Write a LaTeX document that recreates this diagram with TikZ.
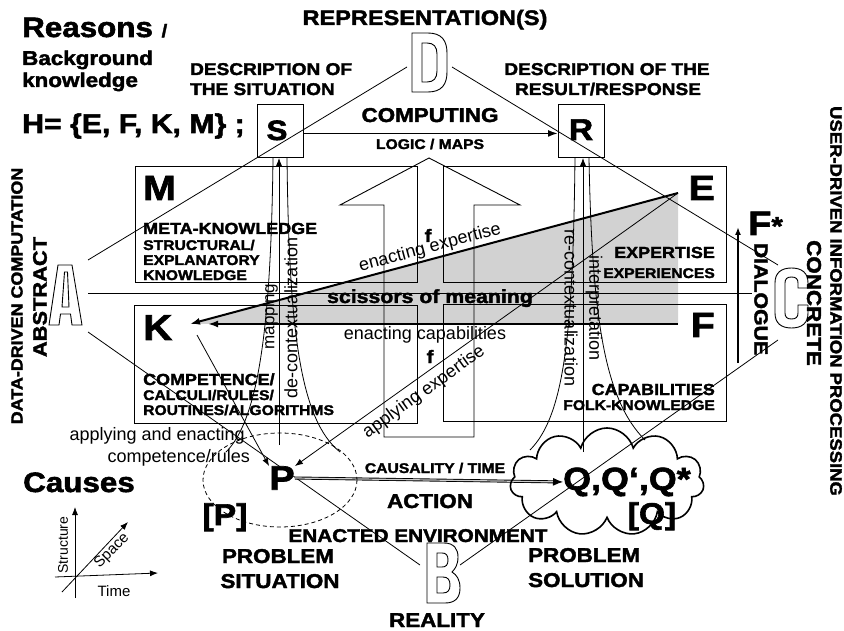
\documentclass[tikz,border=0pt]{standalone}
\usepackage{fontspec}
\setmainfont{Liberation Sans}
\newfontfamily\hv{Liberation Sans Bold}[FakeStretch=1.12,FakeBold=2]
\usetikzlibrary{arrows.meta,shapes.symbols}
\newcommand\fsz[1]{\fontsize{#1}{#1}\selectfont}
\begin{document}
\begin{tikzpicture}[x=1pt,y=-1pt,
  ln/.style={line width=0.8pt},
  boxst/.style={draw,line width=0.9pt,inner sep=0pt,anchor=north west},
  hb/.style={inner sep=0pt},
  tipA/.style={-{Latex[length=8pt,width=6pt]}},
  tipB/.style={-{Latex[length=10pt,width=7pt]}},
  hollow/.style={draw,line width=0.9pt,fill=white,even odd rule},
]
\useasboundingbox[fill=white] (0,0) rectangle (844,631);

% shaded wedge
\coordinate (Etip) at (678,193);
\coordinate (Ktip) at (190,324);
\coordinate (Kcap) at (208,324);
\coordinate (Ecap) at (678,324);
\fill[gray!35] (Ktip) -- (Etip) -- (Ecap) -- cycle;

% boxes
\node[boxst,minimum width=282pt,minimum height=116pt] (Mbox) at (135,166) {};
\node[boxst,minimum width=283pt,minimum height=116pt] (Ebox) at (443,166) {};
\node[boxst,minimum width=283pt,minimum height=118pt] (Kbox) at (134,305) {};
\node[boxst,minimum width=283pt,minimum height=117pt] (Fbox) at (443,304) {};
\node[boxst,minimum width=46pt,minimum height=53pt] (Sbox) at (257,104) {};
\node[boxst,minimum width=46pt,minimum height=53pt] (Rbox) at (558,104) {};

% big hollow up arrow
\draw[line width=0.9pt] (384,437) -- (384,205) -- (340,205) -- (429,158) -- (520,205) -- (474,205) -- (474,437) -- cycle;

% triangle lines A B C D
\coordinate (Dl) at (407,67); \coordinate (Dr) at (452,67);
\coordinate (Aup) at (88,260); \coordinate (Amid) at (88,293); \coordinate (Adn) at (88,332);
\coordinate (Cup) at (778,265); \coordinate (Cmid) at (752,293); \coordinate (Cdn) at (778,340);
\coordinate (Bl) at (420,565); \coordinate (Br) at (460,565);
\draw[ln] (Dl) -- (Aup);
\draw[ln] (Dr) -- (Cup);
\draw[ln] (Amid) -- (Cmid);
\draw[ln] (Adn) -- (Bl);
\draw[ln] (Br) -- (Cdn);

% thick arrows to K
\draw[line width=2pt,tipB] (Etip) -- (Ktip);
\draw[line width=2pt,tipB] (Ecap) -- (Kcap);

% S -> R
\draw[line width=1.8pt,tipB] ([yshift=-2.5pt]Sbox.east) -- ([yshift=-2.5pt]Rbox.west);

% P, Q
\node[hb,font=\hv\fsz{34}] (P) at (282,478) {P};
\node[hb,anchor=base west,font=\hv\fsz{32}] (Qtxt) at (563,490) {Q,Q‘,Q*};
\draw[line width=0.9pt,double=gray!40,double distance=1.2pt,-{Latex[length=10pt,width=8pt]}] (P.east) -- (Qtxt.west);

\coordinate (Kp) at (197,335);
\draw[ln,tipA] (Kp) -- (P.north west);
\draw[ln,tipA] (Etip) -- (P.north east);

% vertical arrows into S and R
\coordinate (Sv) at (279,445);
\draw[ln,tipA] (Sv) -- (Sv |- Sbox.south);
\coordinate (Rv) at (583,452);
\draw[ln,tipA] (Rv) -- (Rv |- Rbox.south);

% funnel curves
\coordinate (s1) at (273,158); \coordinate (s1e) at (226,452);
\coordinate (s2) at (287,158); \coordinate (s2e) at (340,452);
\coordinate (r1) at (575,158); \coordinate (r1e) at (530,450);
\coordinate (r2) at (589,158); \coordinate (r2e) at (645,440);
\draw[ln] (s1) .. controls (271,330) and (258,420) .. (s1e);
\draw[ln] (s2) .. controls (289,330) and (300,420) .. (s2e);
\draw[ln] (r1) .. controls (573,330) and (565,415) .. (r1e);
\draw[ln] (r2) .. controls (592,320) and (605,400) .. (r2e);

% dashed ellipse and cloud
\draw[ln,dash pattern=on 4pt off 3pt] (280,480) ellipse [x radius=77, y radius=47];
\node[cloud,draw,line width=1.6pt,cloud puffs=11,aspect=1.8,minimum width=194pt,minimum height=108pt,inner sep=0pt] (Qcloud) at (607,482) {};

% hollow letters
\draw[hollow] (412,33) -- (428,33) .. controls (442,33) and (447,41) .. (447,53) -- (447,72) .. controls (447,84) and (442,92) .. (428,92) -- (412,92) -- cycle
  (422,43) -- (427,43) .. controls (434,43) and (437,47) .. (437,54) -- (437,71) .. controls (437,78) and (434,82) .. (427,82) -- (422,82) -- cycle;
\draw[hollow] (427,543) -- (444,543) .. controls (454,543) and (458,549) .. (458,557) .. controls (458,565) and (455,569) .. (452,572) .. controls (457,575) and (460,580) .. (460,588) .. controls (460,598) and (455,603) .. (445,603) -- (427,603) -- cycle
  (437,553) -- (442,553) .. controls (446,553) and (448,555) .. (448,560) .. controls (448,565) and (446,567) .. (442,567) -- (437,567) -- cycle
  (437,577) -- (443,577) .. controls (448,577) and (450,580) .. (450,585) .. controls (450,590) and (448,593) .. (443,593) -- (437,593) -- cycle;
\draw[hollow] (49,325) -- (58,265) -- (72,265) -- (82,325) -- (72,325) -- (70.5,314) -- (60.5,314) -- (59,325) -- cycle
  (62,307) -- (64.5,272) -- (67.5,272) -- (69,307) -- cycle;
\draw[hollow] (798,288) -- (808,288) -- (808,283) .. controls (808,273) and (802,268) .. (791.5,268) .. controls (781,268) and (775,273) .. (775,283) -- (775,313) .. controls (775,323) and (781,328) .. (791.5,328) .. controls (802,328) and (808,323) .. (808,313) -- (808,305) -- (798,305) -- (798,313) .. controls (798,317) and (796,319) .. (791.5,319) .. controls (787,319) and (785,317) .. (785,313) -- (785,283) .. controls (785,279) and (787,277) .. (791.5,277) .. controls (796,277) and (798,279) .. (798,283) -- cycle;

% top texts
\node[hb,anchor=base west,font=\hv\fsz{28}] (reasons) at (22,37) {Reasons {\fsz{18}/}};
\node[hb,anchor=base west,font=\hv\fsz{20}] (bg1) at (22,65) {Background};
\node[hb,anchor=base west,font=\hv\fsz{20}] (bg2) at (22,87) {knowledge};
\node[hb,anchor=base west,font=\hv\fsz{27}] (H) at (22,133) {H= \{E, F, K, M\} ;};
\node[hb,anchor=base,font=\hv\fsz{21}] (repr) at (425,25) {REPRESENTATION(S)};
\node[hb,anchor=base west,font=\hv\fsz{17}] (ds1) at (190,75) {DESCRIPTION OF};
\node[hb,anchor=base west,font=\hv\fsz{17}] (ds2) at (190,95) {THE SITUATION};
\node[hb,anchor=base,font=\hv\fsz{17}] (dr1) at (607,75) {DESCRIPTION OF THE};
\node[hb,anchor=base,font=\hv\fsz{17}] (dr2) at (608,95) {RESULT/RESPONSE};
\node[hb,anchor=base,font=\hv\fsz{20}] (comp) at (430,122) {COMPUTING};
\node[hb,anchor=base,font=\hv\fsz{14}] (logic) at (430,149) {LOGIC / MAPS};
\node[hb,anchor=base,font=\hv\fsz{28}] (Slet) at (277,140) {S};
\node[hb,anchor=base,font=\hv\fsz{30}] (Rlet) at (581,140) {R};

% box texts
\node[hb,anchor=base west,font=\hv\fsz{35}] (Mlet) at (143,200) {M};
\node[hb,anchor=base west,font=\hv\fsz{16}] (mk1) at (143,234) {META-KNOWLEDGE};
\node[hb,anchor=base west,font=\hv\fsz{14}] (mk2) at (143,250) {STRUCTURAL/};
\node[hb,anchor=base west,font=\hv\fsz{14}] (mk3) at (143,265) {EXPLANATORY};
\node[hb,anchor=base west,font=\hv\fsz{14}] (mk4) at (143,280) {KNOWLEDGE};
\node[hb,anchor=base west,font=\hv\fsz{36}] (Klet) at (143,340) {K};
\node[hb,anchor=base west,font=\hv\fsz{16}] (kc1) at (143,385) {COMPETENCE/};
\node[hb,anchor=base west,font=\hv\fsz{14}] (kc2) at (143,400) {CALCULI/RULES/};
\node[hb,anchor=base west,font=\hv\fsz{14}] (kc3) at (143,415) {ROUTINES/ALGORITHMS};
\node[hb,anchor=base east,font=\hv\fsz{35}] (Elet) at (715,200) {E};
\node[hb,anchor=base east,font=\hv\fsz{16}] (ee1) at (715,258) {EXPERTISE};
\node[hb,anchor=base east,font=\hv\fsz{14}] (ee2) at (715,278) {EXPERIENCES};
\node[hb,anchor=base east,font=\hv\fsz{35}] (Flet) at (715,337) {F};
\node[hb,anchor=base east,font=\hv\fsz{16}] (fc1) at (715,395) {CAPABILITIES};
\node[hb,anchor=base east,font=\hv\fsz{14}] (fc2) at (715,410) {FOLK-KNOWLEDGE};

% middle labels
\node[hb,font=\fsz{18},rotate=15] (enx) at (430,248) {enacting expertise};
\node[hb,font=\fsz{18},rotate=35.6] (apx) at (424,392) {applying expertise};
\node[hb,anchor=base,font=\fsz{18}] (encap) at (425,340) {enacting capabilities};
\node[hb,anchor=base,font=\hv\fsz{18}] (f1) at (428,242) {f};
\node[hb,anchor=base,font=\hv\fsz{18}] (f2) at (430,363) {f};
\node[hb,anchor=base,font=\hv\fsz{19}] (sci) at (430,303) {scissors of meaning};
\node[hb,font=\fsz{17},rotate=90] (mapl) at (270,317) {mapping};
\node[hb,font=\fsz{18},rotate=90] (decl) at (291,318) {de-contextualization};
\node[hb,font=\fsz{18},rotate=-90] (recl) at (571,308) {re-contextualization};
\node[hb,font=\fsz{18},rotate=-90] (intl) at (594,308) {interpretation};
\node[hb,anchor=base east,font=\fsz{18}] (ae1) at (245,440) {applying and enacting};
\node[hb,anchor=base east,font=\fsz{18}] (ae2) at (250,462) {competence/rules};

% bottom texts
\node[hb,anchor=base west,font=\hv\fsz{28}] (causes) at (23,492) {Causes};
\node[hb,anchor=base,font=\hv\fsz{14}] (caus) at (435,473) {CAUSALITY / TIME};
\node[hb,anchor=base,font=\hv\fsz{20}] (act) at (430,508) {ACTION};
\node[hb,anchor=base,font=\hv\fsz{18.5}] (env) at (418,542) {ENACTED ENVIRONMENT};
\node[hb,anchor=base,font=\hv\fsz{30}] (Pbr) at (225,525) {[P]};
\node[hb,anchor=base,font=\hv\fsz{30}] (Qbr) at (652,524) {[Q]};
\node[hb,anchor=base,font=\hv\fsz{20}] (ps1) at (278,563) {PROBLEM};
\node[hb,anchor=base,font=\hv\fsz{20}] (ps2) at (280,588) {SITUATION};
\node[hb,anchor=base west,font=\hv\fsz{20}] (pq1) at (528,562) {PROBLEM};
\node[hb,anchor=base west,font=\hv\fsz{20}] (pq2) at (528,587) {SOLUTION};
\node[hb,anchor=base,font=\hv\fsz{20}] (real) at (437,627) {REALITY};

% axes
\coordinate (ax0) at (75,598); \coordinate (ax1) at (75,507);
\coordinate (tx0) at (55,577); \coordinate (tx1) at (158,573);
\coordinate (sx0) at (62,592); \coordinate (sx1) at (128,522);
\draw[ln,tipA] (ax0) -- (ax1);
\draw[ln,tipA] (tx0) -- (tx1);
\draw[ln,tipA] (sx0) -- (sx1);
\node[hb,font=\fsz{14},rotate=90] (struct) at (63,545) {Structure};
\node[hb,font=\fsz{15},rotate=45] (space) at (112,551) {Space};
\node[hb,font=\fsz{15}] (time) at (114,591) {Time};

% side texts
\node[hb,font=\hv\fsz{16},rotate=90] (ddc) at (17,296) {DATA-DRIVEN COMPUTATION};
\node[hb,font=\hv\fsz{19.5},rotate=90] (abs) at (40,297) {ABSTRACT};
\node[hb,font=\hv\fsz{16.5},rotate=-90] (udi) at (836,301) {USER-DRIVEN INFORMATION PROCESSING};
\node[hb,font=\hv\fsz{20},rotate=-90] (conc) at (814,303) {CONCRETE};
\node[hb,font=\hv\fsz{19},rotate=-90] (dial) at (761,299) {DIALOGUE};
\node[hb,anchor=base west,font=\hv\fsz{34}] (Fstar) at (748,235) {F{\fsz{26}*}};
\coordinate (dlg0) at (738,363); \coordinate (dlg1) at (738,227);
\draw[line width=1.8pt,tipA] (dlg0) -- (dlg1);
\end{tikzpicture}
\end{document}
